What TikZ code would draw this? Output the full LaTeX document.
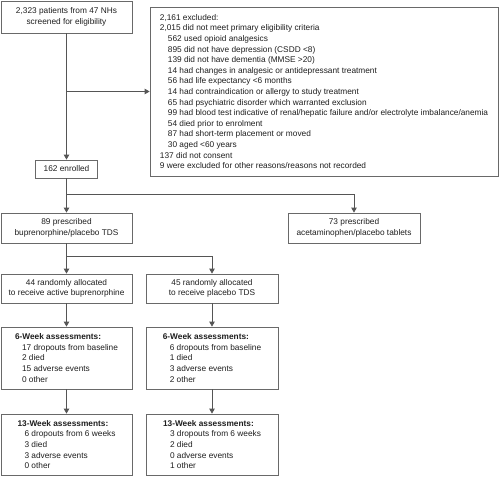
\documentclass[tikz,border=0pt]{standalone}
\usepackage{fontspec}
\setmainfont{Liberation Sans}
\usepackage{tikz}
\usetikzlibrary{positioning,calc,arrows.meta}
\definecolor{boxgray}{RGB}{105,105,105}
\definecolor{linegray}{RGB}{85,85,85}
\definecolor{textgray}{RGB}{30,30,30}

\begin{document}
\begin{tikzpicture}[x=1pt, y=-1pt,
    font=\fontsize{8.3}{10.6}\selectfont,
    box/.style={draw=boxgray, line width=0.8pt, text=textgray, inner sep=2pt},
    flow/.style={draw=linegray, line width=0.8pt, -{Triangle[length=5pt,width=5.5pt]}},
    link/.style={draw=linegray, line width=0.8pt}]

% whole canvas: 500 x 476, y runs downward
\useasboundingbox (0,0) rectangle (500,476);

% Screening and exclusion
\node[box, minimum width=131pt, minimum height=32pt, align=center] (screen) at (66.5,17)
    {2,323 patients from 47 NHs\\screened for eligibility};
\node[box, minimum width=348pt, minimum height=169pt, align=left] (excl) at (324,91.5)
    {2,161 excluded:\\
     2,015 did not meet primary eligibility criteria\\
     \hspace*{8pt}562 used opioid analgesics\\
     \hspace*{8pt}895 did not have depression (CSDD <8)\\
     \hspace*{8pt}139 did not have dementia (MMSE >20)\\
     \hspace*{8pt}14 had changes in analgesic or antidepressant treatment\\
     \hspace*{8pt}56 had life expectancy <6 months\\
     \hspace*{8pt}14 had contraindication or allergy to study treatment\\
     \hspace*{8pt}65 had psychiatric disorder which warranted exclusion\\
     \hspace*{8pt}99 had blood test indicative of renal/hepatic failure and/or electrolyte imbalance/anemia\\
     \hspace*{8pt}54 died prior to enrolment\\
     \hspace*{8pt}87 had short-term placement or moved\\
     \hspace*{8pt}30 aged <60 years\\
     137 did not consent\\
     9 were excluded for other reasons/reasons not recorded};
\node[box, minimum width=62pt, minimum height=18pt] (enrolled) at (66.5,169) {162 enrolled};

% Prescription arms
\node[box, minimum width=131pt, minimum height=30pt, align=center] (tds) at (66.5,228)
    {89 prescribed\\buprenorphine/placebo TDS};
\node[box, minimum width=132pt, minimum height=30pt, align=center] (tabs) at (354,228)
    {73 prescribed\\acetaminophen/placebo tablets};

% Randomisation
\node[box, minimum width=131pt, minimum height=29pt, align=center] (active) at (66.5,288.5)
    {44 randomly allocated\\to receive active buprenorphine};
\node[box, minimum width=132pt, minimum height=29pt, align=center] (placebo) at (212,288.5)
    {45 randomly allocated\\to receive placebo TDS};

% 6-week assessments
\node[box, minimum width=131pt, minimum height=62pt, align=left] (sixa) at (66.5,358)
    {\textbf{6-Week assessments:}\\
     \hspace*{7pt}17 dropouts from baseline\\
     \hspace*{7pt}2 died\\
     \hspace*{7pt}15 adverse events\\
     \hspace*{7pt}0 other};
\node[box, minimum width=132pt, minimum height=62pt, align=left] (sixb) at (212,358)
    {\textbf{6-Week assessments:}\\
     \hspace*{7pt}6 dropouts from baseline\\
     \hspace*{7pt}1 died\\
     \hspace*{7pt}3 adverse events\\
     \hspace*{7pt}2 other};

% 13-week assessments
\node[box, minimum width=131pt, minimum height=61pt, align=left] (thira) at (66.5,444.5)
    {\textbf{13-Week assessments:}\\
     \hspace*{7pt}6 dropouts from 6 weeks\\
     \hspace*{7pt}3 died\\
     \hspace*{7pt}3 adverse events\\
     \hspace*{7pt}0 other};
\node[box, minimum width=132pt, minimum height=61pt, align=left] (thirb) at (212,444.5)
    {\textbf{13-Week assessments:}\\
     \hspace*{7pt}3 dropouts from 6 weeks\\
     \hspace*{7pt}2 died\\
     \hspace*{7pt}0 adverse events\\
     \hspace*{7pt}1 other};

% Connectors
\coordinate (splitarm) at ($(enrolled.south)+(0,16)$);
\coordinate (splitrand) at ($(tds.south)+(0,13)$);

\draw[flow] (screen) -- (enrolled);
\draw[flow] (screen.south |- excl.west) -- (excl.west);
\draw[link] (enrolled) -- (splitarm);
\draw[flow] (splitarm) -- (tds);
\draw[flow] (splitarm) -| (tabs.north);
\draw[link] (tds) -- (splitrand);
\draw[flow] (splitrand) -- (active);
\draw[flow] (splitrand) -| (placebo.north);
\draw[flow] (active) -- (sixa);
\draw[flow] (placebo) -- (sixb);
\draw[flow] (sixa) -- (thira);
\draw[flow] (sixb) -- (thirb);

\end{tikzpicture}
\end{document}
